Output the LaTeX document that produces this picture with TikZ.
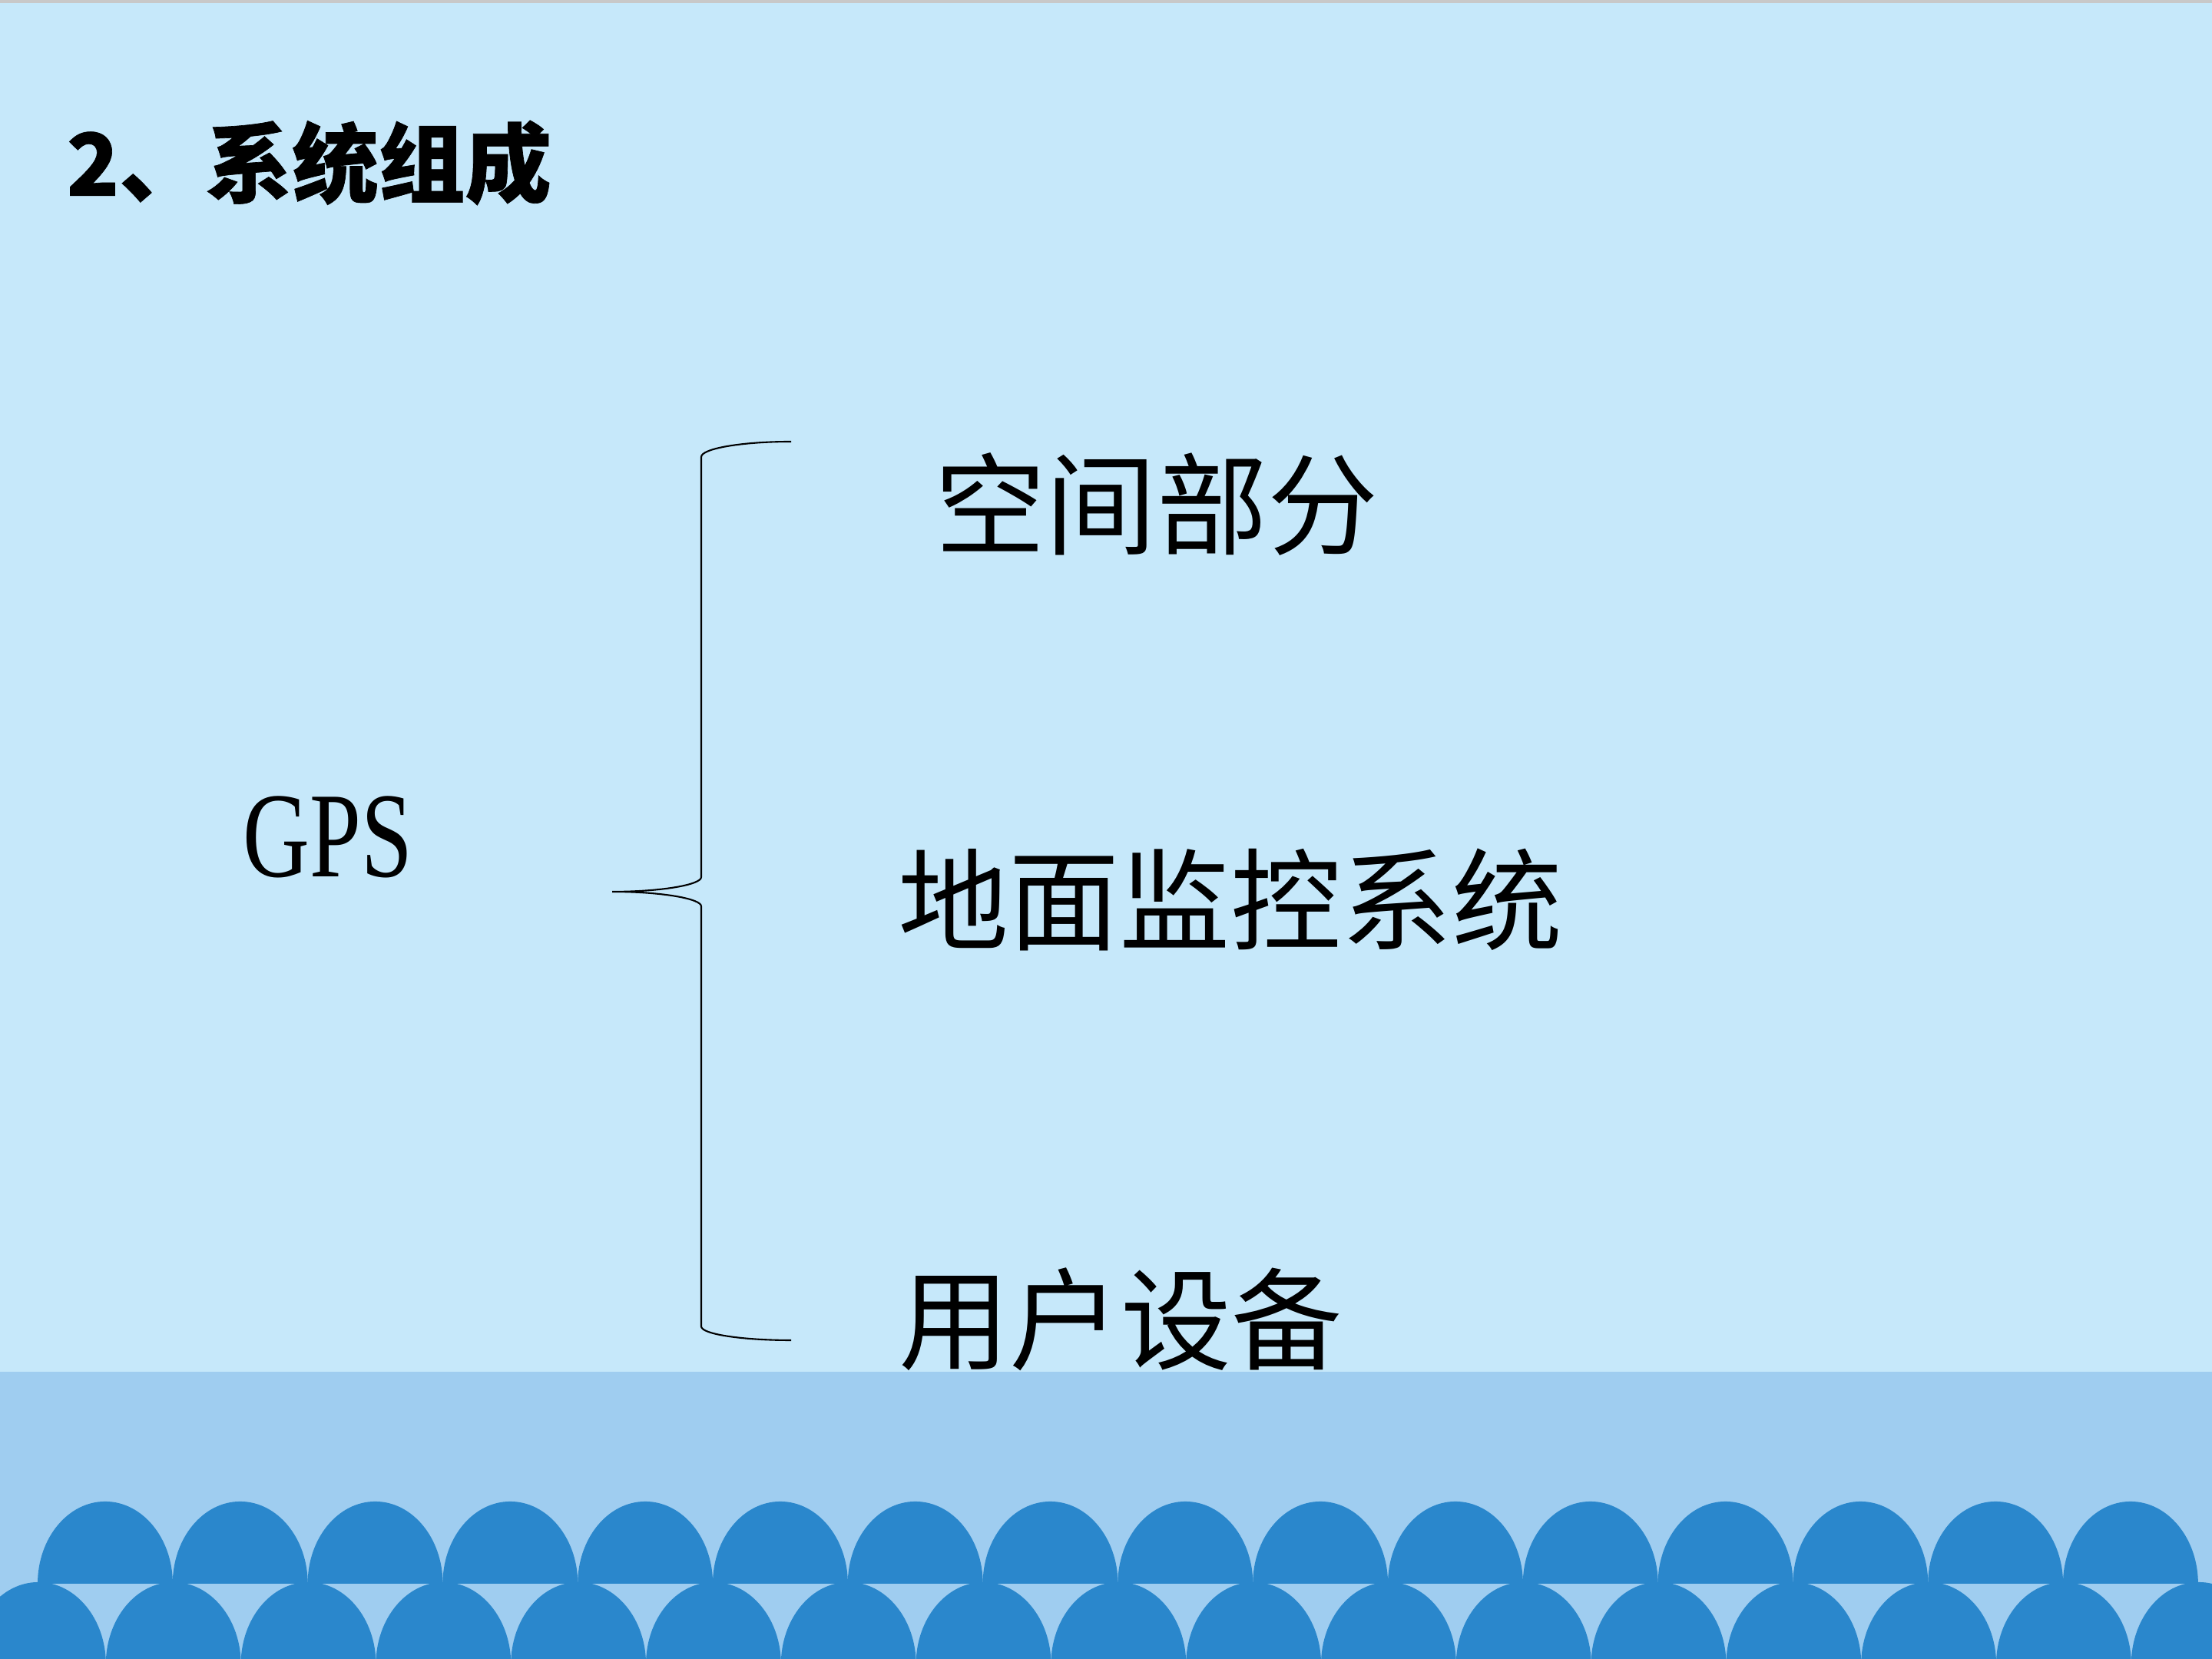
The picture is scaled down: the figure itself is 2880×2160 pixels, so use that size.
\documentclass[tikz,border=0pt]{standalone}
\usepackage{fontspec}
\setmainfont{Liberation Serif}
\newfontfamily\cjk{Noto Sans CJK SC}
\newfontfamily\cjkhead{Noto Sans CJK SC}[BoldFeatures={FakeBold=0.6}]
\usetikzlibrary{positioning}

\definecolor{skybg}{HTML}{C6E8FA}
\definecolor{seaband}{HTML}{9FCDF0}
\definecolor{wave}{HTML}{2A87CC}
\definecolor{rimgray}{HTML}{C8C8C8}

\tikzset{
  item/.style={inner sep=0pt, font=\cjk\fontsize{41}{49}\selectfont},
  bump/.style={fill=wave},
}

\begin{document}
\begin{tikzpicture}[x=0.01cm,y=0.01cm]

\clip (0,0) rectangle (2880,2160);
\fill[skybg] (0,0) rectangle (2880,2160);
\fill[rimgray] (0,2156) rectangle (2880,2160);
\fill[seaband] (0,0) rectangle (2880,374);

% two rows of waves
\foreach \i in {0,...,15}
  \fill[bump] ({49+175.8*\i},98) arc[start angle=180,end angle=0,x radius=0.879cm,y radius=1.07cm] -- cycle;
\foreach \i in {0,...,16}
  \fill[bump] ({-38+175.8*\i},-7) arc[start angle=180,end angle=0,x radius=0.879cm,y radius=1.07cm] -- cycle;

\node[anchor=west, inner sep=0pt, font=\cjkhead\bfseries\fontsize{32}{38}\selectfont] (title) at (86,1948) {2、系统组成};
\node[inner sep=0pt, xscale=0.76, font=\fontsize{45}{54}\selectfont] (gps) at (427,1070) {GPS};
\node[item] (space) at (1506,1503) {空间部分};
\node[item] (ground) at (1602,989) {地面监控系统};
\node[item] (user) at (1459,442) {用户设备};

% brace
\coordinate (btop) at (1030,1585);
\coordinate (btip) at (797,999);
\coordinate (bbot) at (1030,415);
\draw[line width=0.6pt] (btop) .. controls (966,1585) and (913,1576) .. (913,1565)
  -- (913,1018) .. controls (913,1008) and (861,999) .. (btip)
  .. controls (861,999) and (913,990) .. (913,980)
  -- (913,433) .. controls (913,423) and (966,415) .. (bbot);

\end{tikzpicture}
\end{document}
